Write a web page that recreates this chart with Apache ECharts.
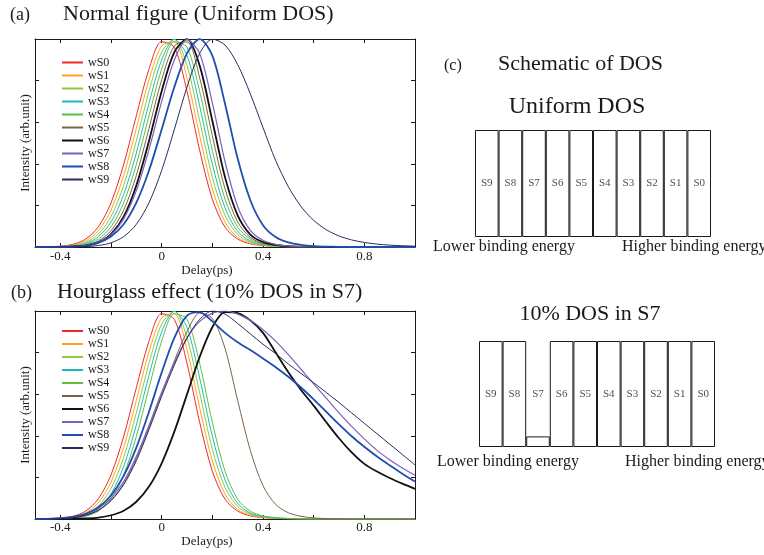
<!DOCTYPE html>
<html>
<head>
<meta charset="utf-8">
<script src="https://cdn.jsdelivr.net/npm/echarts@6/dist/echarts.min.js"></script>
<style>
  html, body { margin: 0; padding: 0; background: #fff; }
  #chart { width: 764px; height: 555px; }
</style>
</head>
<body>
<div id="chart"></div>
<script>
// Delay axis samples (ps)
const delay = [-0.5, -0.45, -0.4, -0.35, -0.3, -0.25, -0.2, -0.15, -0.1, -0.05, 0, 0.05, 0.1, 0.15, 0.2, 0.25, 0.3, 0.35, 0.4, 0.45, 0.5, 0.55, 0.6, 0.65, 0.7, 0.75, 0.8, 0.85, 0.9, 0.95, 1.0];

const seriesNames = ['wS0', 'wS1', 'wS2', 'wS3', 'wS4', 'wS5', 'wS6', 'wS7', 'wS8', 'wS9'];

// (a) uniform DOS, normalised intensity
const uniformWS0 = [0, 0.001, 0.004, 0.013, 0.038, 0.097, 0.212, 0.397, 0.631, 0.855, 0.987, 0.960, 0.748, 0.465, 0.230, 0.095, 0.038, 0.015, 0.007, 0.003, 0.001, 0, 0, 0, 0, 0, 0, 0, 0, 0, 0];
const uniformWS1 = [0, 0.001, 0.003, 0.009, 0.029, 0.078, 0.177, 0.344, 0.570, 0.804, 0.967, 0.986, 0.813, 0.535, 0.280, 0.120, 0.046, 0.018, 0.008, 0.003, 0.001, 0, 0, 0, 0, 0, 0, 0, 0, 0, 0];
const uniformWS2 = [0, 0, 0.002, 0.007, 0.022, 0.062, 0.146, 0.296, 0.510, 0.749, 0.937, 0.999, 0.872, 0.607, 0.336, 0.152, 0.060, 0.024, 0.010, 0.004, 0.002, 0.001, 0, 0, 0, 0, 0, 0, 0, 0, 0];
const uniformWS3 = [0, 0, 0.001, 0.005, 0.017, 0.049, 0.120, 0.252, 0.452, 0.691, 0.900, 0.998, 0.921, 0.678, 0.398, 0.188, 0.075, 0.029, 0.012, 0.005, 0.002, 0.001, 0, 0, 0, 0, 0, 0, 0, 0, 0];
const uniformWS4 = [0, 0, 0.001, 0.004, 0.013, 0.038, 0.097, 0.212, 0.397, 0.631, 0.855, 0.987, 0.960, 0.748, 0.465, 0.230, 0.095, 0.038, 0.015, 0.007, 0.003, 0.001, 0, 0, 0, 0, 0, 0, 0, 0, 0];
const uniformWS5 = [0, 0, 0.001, 0.003, 0.009, 0.029, 0.078, 0.177, 0.344, 0.570, 0.804, 0.967, 0.986, 0.813, 0.535, 0.280, 0.120, 0.046, 0.018, 0.008, 0.003, 0.001, 0, 0, 0, 0, 0, 0, 0, 0, 0];
const uniformWS6 = [0, 0, 0, 0.002, 0.007, 0.022, 0.062, 0.146, 0.296, 0.510, 0.749, 0.937, 0.999, 0.872, 0.607, 0.336, 0.152, 0.060, 0.024, 0.010, 0.004, 0.002, 0.001, 0, 0, 0, 0, 0, 0, 0, 0];
const uniformWS7 = [0, 0, 0, 0.002, 0.007, 0.022, 0.058, 0.135, 0.271, 0.469, 0.699, 0.899, 0.997, 0.930, 0.693, 0.411, 0.195, 0.080, 0.032, 0.013, 0.005, 0.002, 0.001, 0, 0, 0, 0, 0, 0, 0, 0];
const uniformWS8 = [0, 0, 0.001, 0.002, 0.007, 0.020, 0.050, 0.109, 0.213, 0.368, 0.565, 0.769, 0.931, 0.999, 0.920, 0.689, 0.425, 0.225, 0.105, 0.048, 0.022, 0.010, 0.004, 0.002, 0.001, 0, 0, 0, 0, 0, 0];
const uniformWS9 = [0, 0, 0, 0.001, 0.002, 0.007, 0.020, 0.050, 0.109, 0.213, 0.368, 0.565, 0.769, 0.931, 0.999, 0.971, 0.877, 0.736, 0.574, 0.416, 0.290, 0.195, 0.128, 0.083, 0.053, 0.034, 0.022, 0.014, 0.009, 0.006, 0.004];

// (b) 10% DOS in S7, normalised intensity
const hourglassWS0 = [0, 0.001, 0.004, 0.013, 0.038, 0.097, 0.212, 0.397, 0.631, 0.855, 0.987, 0.960, 0.748, 0.465, 0.230, 0.095, 0.038, 0.015, 0.007, 0.003, 0.001, 0, 0, 0, 0, 0, 0, 0, 0, 0, 0];
const hourglassWS1 = [0, 0.001, 0.003, 0.009, 0.029, 0.078, 0.177, 0.344, 0.570, 0.804, 0.967, 0.986, 0.813, 0.535, 0.280, 0.120, 0.046, 0.018, 0.008, 0.003, 0.001, 0, 0, 0, 0, 0, 0, 0, 0, 0, 0];
const hourglassWS2 = [0, 0, 0.002, 0.007, 0.022, 0.062, 0.146, 0.296, 0.510, 0.749, 0.937, 0.999, 0.872, 0.607, 0.336, 0.152, 0.060, 0.024, 0.010, 0.004, 0.002, 0.001, 0, 0, 0, 0, 0, 0, 0, 0, 0];
const hourglassWS3 = [0, 0, 0.001, 0.005, 0.017, 0.049, 0.120, 0.252, 0.452, 0.691, 0.900, 0.998, 0.921, 0.678, 0.398, 0.188, 0.075, 0.029, 0.012, 0.005, 0.002, 0.001, 0, 0, 0, 0, 0, 0, 0, 0, 0];
const hourglassWS4 = [0, 0, 0.001, 0.004, 0.013, 0.038, 0.097, 0.212, 0.397, 0.631, 0.855, 0.987, 0.960, 0.748, 0.465, 0.230, 0.095, 0.038, 0.015, 0.007, 0.003, 0.001, 0, 0, 0, 0, 0, 0, 0, 0, 0];
const hourglassWS5 = [0, 0, 0.002, 0.006, 0.018, 0.042, 0.090, 0.170, 0.290, 0.440, 0.600, 0.760, 0.900, 0.990, 0.965, 0.820, 0.570, 0.330, 0.160, 0.070, 0.030, 0.013, 0.005, 0.002, 0.001, 0, 0, 0, 0, 0, 0];
const hourglassWS6 = [0, 0, 0, 0.001, 0.003, 0.007, 0.018, 0.040, 0.083, 0.156, 0.268, 0.420, 0.599, 0.779, 0.922, 0.995, 0.990, 0.955, 0.895, 0.800, 0.705, 0.620, 0.545, 0.465, 0.388, 0.320, 0.265, 0.228, 0.197, 0.170, 0.145];
const hourglassWS7 = [0, 0, 0.002, 0.008, 0.022, 0.050, 0.100, 0.180, 0.300, 0.450, 0.610, 0.750, 0.870, 0.950, 0.990, 1.000, 0.985, 0.955, 0.910, 0.855, 0.790, 0.720, 0.650, 0.580, 0.510, 0.445, 0.385, 0.330, 0.285, 0.245, 0.210];
const hourglassWS8 = [0, 0.001, 0.004, 0.010, 0.025, 0.056, 0.113, 0.207, 0.343, 0.516, 0.704, 0.871, 0.978, 0.995, 0.950, 0.895, 0.850, 0.812, 0.772, 0.730, 0.684, 0.632, 0.575, 0.515, 0.455, 0.398, 0.347, 0.300, 0.258, 0.218, 0.180];
const hourglassWS9 = [0, 0, 0.002, 0.006, 0.018, 0.042, 0.088, 0.165, 0.280, 0.430, 0.590, 0.740, 0.870, 0.960, 1.000, 0.985, 0.940, 0.890, 0.840, 0.795, 0.745, 0.700, 0.655, 0.608, 0.560, 0.510, 0.460, 0.410, 0.360, 0.310, 0.260];

// (c) schematic density of states per slice
const slices = ['S9', 'S8', 'S7', 'S6', 'S5', 'S4', 'S3', 'S2', 'S1', 'S0'];
const dosUniform = [1, 1, 1, 1, 1, 1, 1, 1, 1, 1];
const dosHourglass = [1, 1, 0.1, 1, 1, 1, 1, 1, 1, 1];

// Delay tick marks and labelled ticks
const delayTicks = [-0.4, -0.2, 0, 0.2, 0.4, 0.6, 0.8, 1.0];
const delayLabels = [-0.4, 0, 0.4, 0.8];

const uniformSets = [uniformWS0, uniformWS1, uniformWS2, uniformWS3, uniformWS4, uniformWS5, uniformWS6, uniformWS7, uniformWS8, uniformWS9];
const hourglassSets = [hourglassWS0, hourglassWS1, hourglassWS2, hourglassWS3, hourglassWS4, hourglassWS5, hourglassWS6, hourglassWS7, hourglassWS8, hourglassWS9];

const lineColors = ['#ee2a2a', '#ffa22a', '#8ccb3e', '#1dbcbc', '#5fbf40', '#7d6249', '#111111', '#7d5fc0', '#1f4eae', '#2c2c5e'];
const lineWidths = [1, 1, 1, 1, 1, 1, 1.8, 1.2, 1.8, 1];

const SERIF = '"Liberation Serif", "Times New Roman", serif';
const INK = '#1a1a1a';

function curveSeries(sets, axisIndex) {
  return sets.map((vals, k) => ({
    name: seriesNames[k],
    type: 'line',
    xAxisIndex: axisIndex,
    yAxisIndex: axisIndex,
    data: delay.map((d, i) => [d, vals[i]]),
    smooth: 0.3,
    symbol: 'none',
    lineStyle: { color: lineColors[k], width: lineWidths[k] },
    itemStyle: { color: lineColors[k] },
    z: 3
  }));
}

function delayAxis(gridIndex, position, showLabels, margin, nameGap) {
  return {
    type: 'value', gridIndex, position, min: -0.5, max: 1.0,
    axisLine: { show: true, onZero: false, lineStyle: { color: INK, width: 1 } },
    axisTick: { show: true, inside: true, length: 4, customValues: delayTicks, lineStyle: { color: INK } },
    axisLabel: { show: showLabels, customValues: delayLabels, margin, fontFamily: SERIF, fontSize: 13, color: INK },
    splitLine: { show: false },
    name: showLabels ? 'Delay(ps)' : '',
    nameLocation: 'middle',
    nameGap,
    nameTextStyle: { fontFamily: SERIF, fontSize: 13, color: INK, padding: [0, 36, 0, 0] }
  };
}

function intensityAxis(gridIndex, position, named) {
  return {
    type: 'value', gridIndex, position, min: 0, max: 1, interval: 0.2,
    axisLine: { show: true, onZero: false, lineStyle: { color: INK, width: 1 } },
    axisTick: { show: true, inside: true, length: 4, lineStyle: { color: INK } },
    axisLabel: { show: false },
    splitLine: { show: false },
    name: named ? 'Intensity (arb.unit)' : '',
    nameLocation: 'middle',
    nameGap: 3,
    nameTextStyle: { fontFamily: SERIF, fontSize: 13, color: INK }
  };
}

function schematicAxes(gridIndex) {
  return {
    x: { type: 'category', gridIndex, data: slices, show: false },
    y: { type: 'value', gridIndex, min: 0, max: 1, show: false }
  };
}

const sA = schematicAxes(2);
const sB = schematicAxes(3);

function dosSeries(vals, axisIndex) {
  return [
    {
      type: 'bar', xAxisIndex: axisIndex, yAxisIndex: axisIndex,
      data: vals, barCategoryGap: '0%',
      itemStyle: { color: '#ffffff', borderColor: INK, borderWidth: 1 },
      silent: true, z: 2
    },
    {
      // slice names written at mid-height of each column
      type: 'scatter', xAxisIndex: axisIndex, yAxisIndex: axisIndex,
      data: slices.map(s => [s, 0.5]),
      symbolSize: 0,
      label: { show: true, position: 'inside', formatter: p => p.value[0], fontFamily: SERIF, fontSize: 11, color: INK },
      silent: true, z: 4
    }
  ];
}

function legendAt(top) {
  return {
    orient: 'vertical', left: 61, top, padding: 0,
    itemWidth: 21, itemHeight: 12, itemGap: 1,
    data: seriesNames,
    itemStyle: { color: 'transparent', borderWidth: 0 },
    textStyle: { fontFamily: SERIF, fontSize: 12, color: INK },
    selectedMode: false
  };
}

function txt(left, top, text, size, align) {
  return {
    type: 'text', x: left, y: top, silent: true,
    style: { text, fontFamily: SERIF, fontSize: size, fill: INK, align: align || 'left', verticalAlign: 'middle' }
  };
}

const chart = echarts.init(document.getElementById('chart'), null, { renderer: 'canvas' });

chart.setOption({
  animation: false,
  backgroundColor: '#ffffff',
  grid: [
    { left: 35, top: 39, width: 380, height: 208 },
    { left: 35, top: 311, width: 380, height: 208 },
    { left: 475, top: 130, width: 236, height: 107 },
    { left: 479, top: 341, width: 236, height: 106 }
  ],
  xAxis: [
    delayAxis(0, 'bottom', true, 3, 15),
    delayAxis(0, 'top', false, 3, 15),
    delayAxis(1, 'bottom', true, 2, 11),
    delayAxis(1, 'top', false, 2, 11),
    sA.x, sB.x
  ],
  yAxis: [
    intensityAxis(0, 'left', true),
    intensityAxis(0, 'right', false),
    intensityAxis(1, 'left', true),
    intensityAxis(1, 'right', false),
    sA.y, sB.y
  ],
  legend: [legendAt(56.5), legendAt(325)],
  series: [
    ...curveSeries(uniformSets, 0),
    ...curveSeries(hourglassSets, 2),
    ...dosSeries(dosUniform, 4),
    ...dosSeries(dosHourglass, 5)
  ],
  graphic: [
    txt(10, 15, '(a)', 18),
    txt(63, 14, 'Normal figure (Uniform DOS)', 22),
    txt(11, 293, '(b)', 18),
    txt(57, 292, 'Hourglass effect (10% DOS in S7)', 22),
    txt(444, 66, '(c)', 16),
    txt(498, 64, 'Schematic of DOS', 22),
    txt(577, 107, 'Uniform DOS', 24, 'center'),
    txt(433, 247, 'Lower binding energy', 16),
    txt(622, 247, 'Higher binding energy', 16),
    txt(590, 314, '10% DOS in S7', 22, 'center'),
    txt(437, 462, 'Lower binding energy', 16),
    txt(625, 462, 'Higher binding energy', 16)
  ]
});
</script>
</body>
</html>
